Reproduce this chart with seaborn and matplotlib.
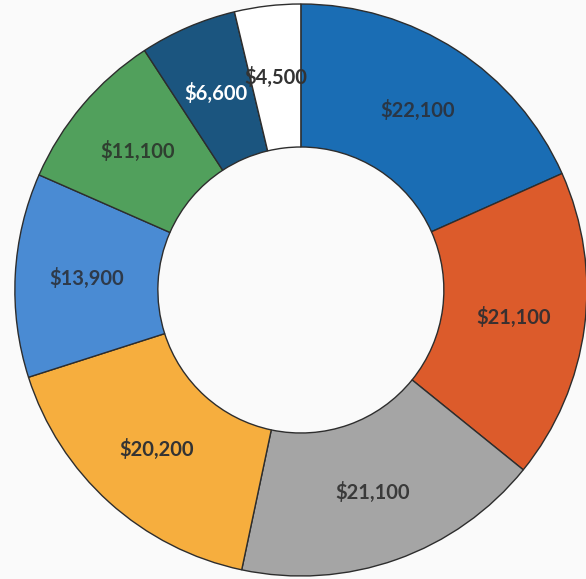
import matplotlib
matplotlib.use("Agg")
import matplotlib.pyplot as plt
import seaborn as sns

# Slice values, clockwise from 12 o'clock
values = [22100, 21100, 21100, 20200, 13900, 11100, 6600, 4500]
labels = ["$22,100", "$21,100", "$21,100", "$20,200", "$13,900", "$11,100", "$6,600", "$4,500"]
colors = ["#1a6db4", "#dc5b2b", "#a5a5a5", "#f6ae3e", "#4a8bd3", "#51a05c", "#1b557f", "#ffffff"]
text_colors = ["#2a3645", "#3a3030", "#3a3a3a", "#333333", "#2e3a4a", "#2f3f30", "#ffffff", "#333333"]

sns.set_theme(style="white")
plt.rcParams["font.family"] = ["Lato", "DejaVu Sans"]

bg = "#fafafa"
fig = plt.figure(figsize=(5.86, 5.79), dpi=100, facecolor=bg)
ax = fig.add_axes([0, 0, 1, 1])
ax.set_facecolor(bg)

palette = sns.color_palette(colors)
wedges, texts = ax.pie(
    values,
    labels=labels,
    colors=palette,
    startangle=90,
    counterclock=False,
    radius=1.0,
    labeldistance=0.75,
    wedgeprops=dict(width=0.5, edgecolor="#2d2d2d", linewidth=1.0),
    textprops=dict(fontsize=14.5, fontweight="bold", ha="center", va="center"),
)
for t, c in zip(texts, text_colors):
    t.set_color(c)
    t.set_horizontalalignment("center")

ax.set_aspect("auto")
ax.set_xlim(-1.052, 0.997)
ax.set_ylim(-1.0105, 1.014)
ax.axis("off")

fig.savefig("out.png", dpi=100, facecolor=fig.get_facecolor())
